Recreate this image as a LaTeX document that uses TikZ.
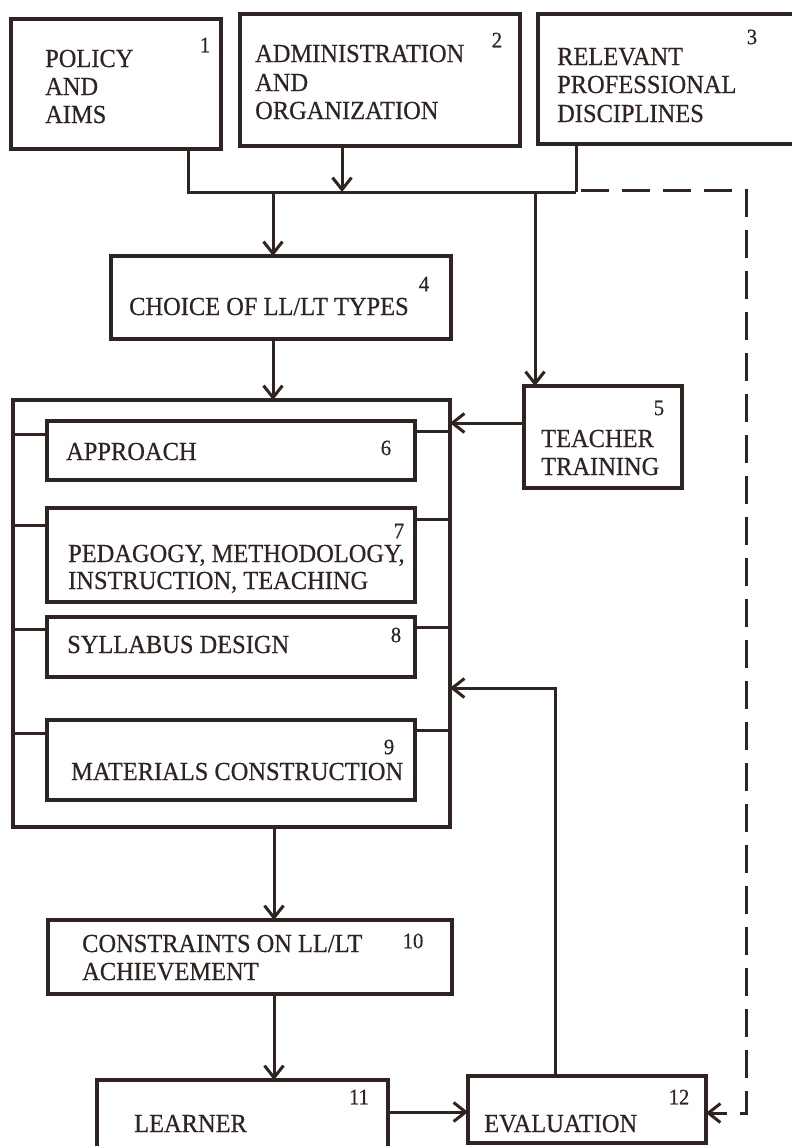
\documentclass[tikz,border=0pt]{standalone}
\usepackage{fontspec}
\setmainfont[FakeStretch=0.94,FakeBold=0.5]{Liberation Serif}
\usetikzlibrary{arrows.meta,calc}
\definecolor{ink}{RGB}{48,36,34}
\tikzset{
  box/.style={draw=ink,line width=3.4pt,rectangle,inner sep=0pt,outer sep=0pt,anchor=north west},
  lbl/.style={inner sep=0pt,anchor=base west,text=ink,font=\fontsize{26}{28}\selectfont,align=left},
  num/.style={inner sep=0pt,anchor=center,text=ink,font=\fontsize{22}{22}\selectfont},
  con/.style={draw=ink,line width=3pt},
  arr/.style={con,-{Straight Barb[length=12pt,width=19pt,line width=3pt]}},
  dsh/.style={arr,dash pattern=on 28pt off 13pt}
}
\begin{document}
\begin{tikzpicture}[x=1pt,y=-1pt]
\useasboundingbox (0,0) rectangle (792,1146);
\fill[white] (0,0) rectangle (792,1146);
\clip (0,0) rectangle (792,1146);
% boxes
\node[box,minimum width=210pt,minimum height=130pt] (b1) at (11,19) {};
\node[box,minimum width=280pt,minimum height=132pt] (b2) at (240,14) {};
\node[box,minimum width=262pt,minimum height=130pt] (b3) at (538,14) {};
\node[box,minimum width=340pt,minimum height=83pt] (b4) at (111,256) {};
\node[box,minimum width=158pt,minimum height=102pt] (b5) at (524,386) {};
\node[box,minimum width=437pt,minimum height=427pt] (big) at (13,400) {};
\node[box,minimum width=368pt,minimum height=59pt] (b6) at (47,421) {};
\node[box,minimum width=368pt,minimum height=94pt] (b7) at (47,508) {};
\node[box,minimum width=368pt,minimum height=60pt] (b8) at (47,617) {};
\node[box,minimum width=368pt,minimum height=80pt] (b9) at (47,720) {};
\node[box,minimum width=404pt,minimum height=74pt] (b10) at (48,920) {};
\node[box,minimum width=291pt,minimum height=70pt] (b11) at (97,1080) {};
\node[box,minimum width=238pt,minimum height=67pt] (b12) at (468,1076) {};
% texts
\node[lbl] (t1a) at (45,67) {POLICY};
\node[lbl] (t1b) at (45,95) {AND};
\node[lbl] (t1c) at (45,123) {AIMS};
\node[lbl] (t2a) at (255,62) {ADMINISTRATION};
\node[lbl] (t2b) at (255,91) {AND};
\node[lbl] (t2c) at (255,119) {ORGANIZATION};
\node[lbl] (t3a) at (557,65) {RELEVANT};
\node[lbl] (t3b) at (557,93) {PROFESSIONAL};
\node[lbl] (t3c) at (557,122) {DISCIPLINES};
\node[lbl] (t4) at (129,315) {CHOICE OF LL/LT TYPES};
\node[lbl] (t5a) at (541,447) {TEACHER};
\node[lbl] (t5b) at (541,475) {TRAINING};
\node[lbl] (t6) at (66,460) {APPROACH};
\node[lbl] (t7a) at (68,562) {PEDAGOGY, METHODOLOGY,};
\node[lbl] (t7b) at (68,589) {INSTRUCTION, TEACHING};
\node[lbl] (t8) at (67,653) {SYLLABUS DESIGN};
\node[lbl] (t9) at (71,780) {MATERIALS CONSTRUCTION};
\node[lbl] (t10a) at (82,952) {CONSTRAINTS ON LL/LT};
\node[lbl] (t10b) at (82,980) {ACHIEVEMENT};
\node[lbl] (t11) at (134,1132) {LEARNER};
\node[lbl] (t12) at (484,1132) {EVALUATION};
% numbers
\node[num] (n1) at (205,45) {1};
\node[num] (n2) at (497,40) {2};
\node[num] (n3) at (752,37) {3};
\node[num] (n4) at (424,284) {4};
\node[num] (n5) at (659,408) {5};
\node[num] (n6) at (386,448) {6};
\node[num] (n7) at (399,531) {7};
\node[num] (n8) at (396,635) {8};
\node[num] (n9) at (389,747) {9};
\node[num] (n10) at (413,941) {10};
\node[num] (n11) at (359,1097) {11};
\node[num] (n12) at (679,1097) {12};
% junction coordinates
\coordinate (j1) at (188,192);
\coordinate (j2) at (342,192);
\coordinate (j3) at (576,192);
\coordinate (j4) at (273,192);
\coordinate (j5) at (535,192);
\coordinate (k5) at (524,423);
\coordinate (f1) at (555,688);
\coordinate (d1) at (746,192);
\coordinate (d2) at (746,1113);
\coordinate (m) at (274,0);
% connectors
\draw[con] (b1.south -| j1) -- (j1) -- (j3);
\draw[con] (b3.south -| j3) -- (j3);
\draw[arr] (b2.south -| j2) -- (j2);
\draw[arr] (j4) -- (j4 |- b4.north);
\draw[arr] (j5) -- (j5 |- b5.north);
\draw[arr] (b4.south -| j4) -- (j4 |- big.north);
\draw[arr] (k5) -- (k5 -| big.east);
% stubs
\draw[con] (big.west |- 0,434) -- (b6.west |- 0,434);
\draw[con] (b6.east |- 0,431) -- (big.east |- 0,431);
\draw[con] (big.west |- 0,525) -- (b7.west |- 0,525);
\draw[con] (b7.east |- 0,519) -- (big.east |- 0,519);
\draw[con] (big.west |- 0,629) -- (b8.west |- 0,629);
\draw[con] (b8.east |- 0,627) -- (big.east |- 0,627);
\draw[con] (big.west |- 0,733) -- (b9.west |- 0,733);
\draw[con] (b9.east |- 0,730) -- (big.east |- 0,730);
% lower flow
\draw[arr] (big.south -| m) -- (m |- b10.north);
\draw[arr] (b10.south -| m) -- (m |- b11.north);
\draw[arr] (b11.east |- 0,1112) -- (b12.west |- 0,1112);
\draw[arr] (f1 |- b12.north) -- (f1) -- (f1 -| big.east);
\draw[dsh] ($(j3)+(5,-2)$) -- ($(d1)+(0,-2)$) -- (d2) -- (b12.east |- d2);
\end{tikzpicture}
\end{document}
